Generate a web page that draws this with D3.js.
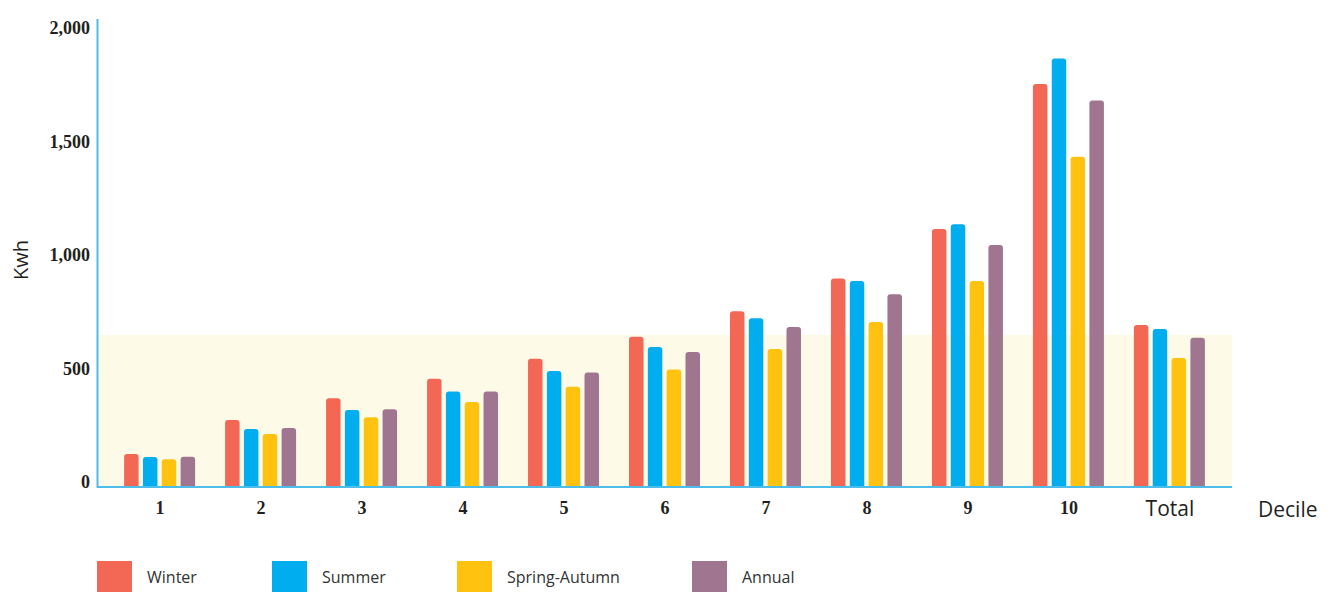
<!DOCTYPE html>
<html>
<head>
<meta charset="utf-8">
<script src="https://cdn.jsdelivr.net/npm/d3@7"></script>
<style>
  body { margin: 0; background: #fff; }
  .num text { font-family: "Liberation Serif", serif; font-weight: bold; font-size: 18px; fill: #231f20; }
  .lbl { font-family: "Open Sans", sans-serif; fill: #231f20; }
</style>
</head>
<body>
<div id="chart"></div>
<script>
// deciles plus the overall total
let deciles = ["1", "2", "3", "4", "5", "6", "7", "8", "9", "10", "Total"]
let seriesNames = ["Winter", "Summer", "Spring-Autumn", "Annual"]
let winter       = [145, 295, 391, 477, 565, 662, 774, 919, 1137, 1775, 714]
let summer       = [132, 255, 339, 421, 511, 617, 743, 907, 1157, 1888, 696]
let springAutumn = [122, 233, 307, 374, 442, 518, 608, 727, 907, 1455, 568]
let annual       = [133, 260, 342, 421, 504, 595, 705, 849, 1066, 1703, 658]
let yTicks = [0, 500, 1000, 1500, 2000]
let shadedLevel = 670

let colors = ["#f26855", "#00aeef", "#ffc20e", "#a0758f"]
let seriesValues = [winter, summer, springAutumn, annual]

let width = 1334
let height = 592
let left = 97
let right = 1232
let baseY = 487

let svg = d3.select("#chart").append("svg")
  .attr("width", width)
  .attr("height", height)

let x = d3.scalePoint()
  .domain(deciles)
  .range([left, right])
  .padding(0.62)

let inner = d3.scaleBand()
  .domain(seriesNames)
  .range([-35.5, 35.5])
  .paddingInner(0.23)

let y = d3.scaleLinear()
  .domain([0, 2000])
  .range([baseY, 33])

// pale band behind the bars
svg.append("rect")
  .attr("x", left + 1)
  .attr("y", y(shadedLevel))
  .attr("width", right - left - 1)
  .attr("height", baseY - y(shadedLevel))
  .attr("fill", "#fefae8")

// rounded top only
function barPath(x0, w, top, bottom) {
  let r = 3
  return "M" + x0 + "," + bottom
    + "V" + (top + r)
    + "Q" + x0 + "," + top + " " + (x0 + r) + "," + top
    + "H" + (x0 + w - r)
    + "Q" + (x0 + w) + "," + top + " " + (x0 + w) + "," + (top + r)
    + "V" + bottom + "Z"
}

let rows = []
deciles.forEach(function(d, i) {
  seriesNames.forEach(function(s, j) {
    rows.push({ decile: d, series: s, value: seriesValues[j][i], color: colors[j] })
  })
})

svg.append("g")
  .selectAll("path")
  .data(rows)
  .join("path")
  .attr("d", d => barPath(x(d.decile) + inner(d.series), inner.bandwidth(), y(d.value), baseY))
  .attr("fill", d => d.color)

// axis lines
svg.append("line")
  .attr("x1", left + 0.5).attr("x2", left + 0.5)
  .attr("y1", 19).attr("y2", baseY + 1)
  .attr("stroke", "#4dbde9").attr("stroke-width", 2)
svg.append("line")
  .attr("x1", left).attr("x2", right)
  .attr("y1", baseY).attr("y2", baseY)
  .attr("stroke", "#4dbde9").attr("stroke-width", 2)

let yAxis = svg.append("g")
  .attr("class", "num")
  .attr("transform", "translate(" + (left - 7) + ",0)")
  .call(d3.axisLeft(y).tickValues(yTicks).tickSize(0).tickFormat(d3.format(",")))
yAxis.select(".domain").remove()
yAxis.selectAll("text").attr("dy", "0.05em").attr("x", 0)

let xAxis = svg.append("g")
  .attr("class", "num")
  .attr("transform", "translate(0," + baseY + ")")
  .call(d3.axisBottom(x).tickSize(0))
xAxis.select(".domain").remove()
xAxis.selectAll("text").attr("y", 14)
xAxis.selectAll(".tick")
  .filter(d => d == "Total")
  .select("text")
  .attr("class", "lbl")
  .style("font-family", "'Open Sans', sans-serif")
  .style("font-weight", "normal")
  .style("font-size", "21px")
  .attr("y", 14)

svg.append("text")
  .attr("class", "lbl")
  .attr("x", 1258).attr("y", 517)
  .style("font-size", "21px")
  .text("Decile")

svg.append("text")
  .attr("class", "lbl")
  .attr("transform", "translate(28,260) rotate(-90)")
  .attr("text-anchor", "middle")
  .style("font-size", "20px")
  .text("Kwh")

// legend
let legendX = [97, 272, 457, 692]
let legend = svg.append("g")
  .selectAll("g")
  .data(seriesNames)
  .join("g")
  .attr("transform", (d, i) => "translate(" + legendX[i] + ",561)")
legend.append("rect")
  .attr("width", 35).attr("height", 31)
  .attr("fill", (d, i) => colors[i])
legend.append("text")
  .attr("class", "lbl")
  .attr("x", 50).attr("y", 22)
  .style("font-size", "16px")
  .style("fill", "#333")
  .text(d => d)
</script>
</body>
</html>
